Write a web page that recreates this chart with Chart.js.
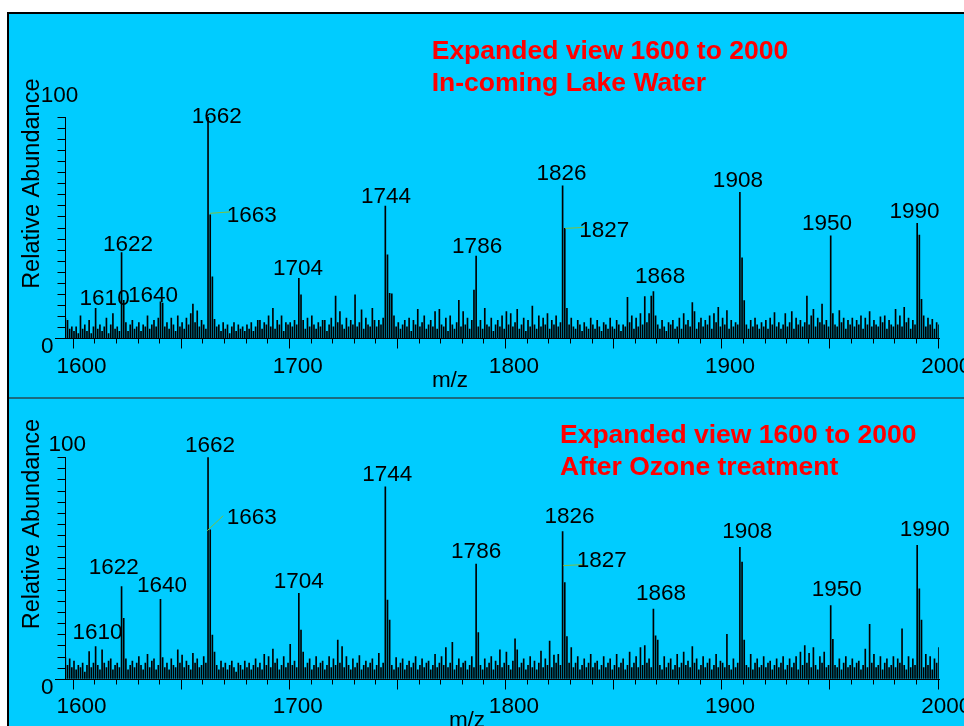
<!DOCTYPE html>
<html><head><meta charset="utf-8">
<script src="https://cdn.jsdelivr.net/npm/chart.js@4.4.0/dist/chart.umd.min.js"></script>
<style>
html,body{margin:0;padding:0;background:#fff;width:964px;height:726px;overflow:hidden;}
#frame{position:absolute;left:7px;top:12px;width:1000px;height:800px;border:2px solid #000;background:#00CCFF;}
#divider{position:absolute;left:9px;top:397px;width:1000px;height:2px;background:#1b6b80;}
canvas{position:absolute;left:0;}
#c1{top:0px;} #c2{top:397px;}
</style></head>
<body>
<div id="frame"></div><div id="divider"></div>
<canvas id="c1" width="964" height="397"></canvas>
<canvas id="c2" width="964" height="329"></canvas>
<script>
// ---------------- DATA ----------------
const mzFirst = 1596;   // first m/z of the abundance arrays (one value per integer m/z)
const mzLast = 2000;
// In-coming lake water, relative abundance at m/z 1596..2000
const abundanceTop = [
  9, 8, 4, 5,                                   // 1596-1599
  3, 5, 2, 10, 4, 6, 3, 8, 2, 5,                // 1600
  13.4, 4, 6, 3, 5, 9, 2, 6, 11, 4,             // 1610
  5, 3, 38.6, 17, 7, 3, 6, 8, 4, 5,             // 1620
  7, 3, 6, 5, 10, 4, 6, 8, 5, 9,                // 1630
  16.4, 15.8, 5, 7, 4, 9, 6, 3, 10, 5,          // 1640
  7, 4, 9, 6, 11, 15.4, 7, 12.3, 5, 8,          // 1650
  6, 4, 100, 55.7, 27.7, 8.5, 5, 6, 3, 7,       // 1660
  4, 6, 2, 5, 7, 3, 6, 4, 5, 3,                 // 1670
  6, 4, 7, 3, 5, 8, 8, 4, 7, 6,                 // 1680
  10, 5, 13.4, 4, 8, 6, 10, 3, 7, 6,            // 1690
  7, 5, 8, 6, 27, 19.5, 8, 4, 9, 5,             // 1700
  10, 6, 4, 7, 5, 8, 8, 3, 6, 9,                // 1710
  5, 19, 7, 12, 6, 4, 9, 5, 8, 6,               // 1720
  19.5, 5, 7, 12.7, 4, 9, 6, 5, 13.4, 8,        // 1730
  5, 8, 6, 9, 59.7, 37.6, 20.2, 20, 10, 5,      // 1740
  7, 4, 6, 8, 5, 9, 3, 8, 6, 13,                // 1750
  5, 7, 10, 4, 6, 8, 5, 12, 4, 13,              // 1760
  6, 5, 9, 3, 10, 6, 4, 7, 17, 5,               // 1770
  12, 6, 9, 4, 8, 21.7, 37.1, 5, 8, 4,          // 1780
  13.4, 6, 5, 9, 3, 6, 8, 5, 10, 4,             // 1790
  12, 6, 11, 5, 7, 13, 4, 6, 9, 3,              // 1800
  8, 5, 14.5, 6, 4, 10, 5, 9, 6, 11,            // 1810
  4, 8, 6, 10, 5, 7, 68.8, 49.6, 13.4, 6,       // 1820
  9, 5, 4, 8, 6, 3, 7, 5, 4, 9,                 // 1830
  6, 4, 8, 5, 3, 7, 6, 4, 9, 5,                 // 1840
  4, 8, 6, 3, 6, 5, 18.4, 7, 10, 4,             // 1850
  9, 5, 11, 6, 18.7, 7, 11, 19, 21, 10,         // 1860
  6, 4, 8, 5, 3, 7, 6, 8, 4, 5,                 // 1870
  9, 4, 11, 6, 8, 5, 16, 12, 4, 7,              // 1880
  9, 5, 8, 6, 10, 4, 11, 7, 13.9, 5,            // 1890
  9, 6, 12.4, 4, 8, 5, 7, 6, 65.9, 36.3,        // 1900
  16.9, 6, 4, 8, 5, 9, 6, 4, 7, 5,              // 1910
  8, 4, 9, 6, 11.5, 5, 7, 4, 6, 11,             // 1920
  5, 7, 12, 4, 9, 6, 8, 5, 7, 19,               // 1930
  6, 10, 13, 5, 9, 7, 15.4, 6, 8, 5,            // 1940
  46.2, 11, 6, 5, 12.4, 7, 9, 4, 8, 6,          // 1950
  9, 5, 8, 6, 10, 4, 9, 6, 12, 5,               // 1960
  8, 6, 5, 9.6, 7, 10, 4, 8, 6, 5,              // 1970
  13, 6, 10, 5, 13.9, 7, 9, 4, 8, 6,            // 1980
  51.9, 46.6, 17.5, 10, 5, 9, 6, 8.5, 4, 7,     // 1990
  6                                             // 2000
];
// After ozone treatment, relative abundance at m/z 1596..2000
const abundanceBottom = [
  9.5, 6, 9, 5,                                 // 1596-1599
  8, 4, 6, 5, 7, 3, 6, 12.2, 5, 7,              // 1600
  14.5, 6, 4, 13, 7, 5, 8, 9, 4, 6,             // 1610
  7, 5, 41.6, 27.3, 9, 4, 6, 8, 5, 7,           // 1620
  10, 6, 4, 7, 11, 5, 8, 9, 4, 6,               // 1630
  35.9, 9.5, 5, 7, 4, 9, 6, 5, 13, 7,           // 1640
  10.7, 5, 8, 6, 4, 11.5, 7, 9, 5, 6,           // 1650
  10, 7, 100, 67.2, 19.7, 12, 6, 4, 8, 5,       // 1660
  7, 4, 6, 8, 5, 3, 7, 6, 4, 8,                 // 1670
  5, 7, 4, 6, 9, 5, 7, 4, 11, 6,                // 1680
  10, 5, 13.4, 7, 9, 4, 6, 10, 5, 7,            // 1690
  15.5, 6, 8, 5, 38.6, 22, 12, 5, 7, 9,         // 1700
  4, 6, 10, 5, 7, 8, 4, 6, 10, 5,               // 1710
  9, 6, 17.5, 7, 14.5, 5, 10, 6, 4, 9,          // 1720
  5, 7, 10.4, 4, 6, 8, 5, 7, 9, 4,              // 1730
  6, 11.5, 5, 7, 86.7, 35.5, 26.5, 6, 4, 9.5,   // 1740
  5, 7, 9, 4, 6, 8, 5, 7, 10, 4,                // 1750
  6, 9, 5, 7, 8, 4, 6, 11, 5, 7,                // 1760
  10, 6, 14, 5, 7, 16.4, 4, 6, 9, 5,            // 1770
  7, 8, 4, 6, 10, 5, 51.8, 20.8, 6, 4,          // 1780
  9, 5, 7, 10, 4, 8, 6, 13, 5, 7,               // 1790
  12, 6, 4, 8, 18, 13, 5, 7, 9, 4,              // 1800
  6, 10, 5, 8, 4, 7, 12.5, 5, 9, 6,             // 1810
  17, 5, 10.7, 7, 11, 6, 66.4, 43.4, 19, 7,     // 1820
  14, 5, 7, 10, 4, 6, 9, 5, 7, 11,              // 1830
  5, 7, 8, 4, 6, 10, 5, 7, 9, 4,                // 1840
  6, 11, 5, 7, 9, 4, 6, 12, 5, 7,               // 1850
  10, 5, 14, 6, 15, 7, 9, 5, 31.5, 19.4,        // 1860
  17.5, 6, 4, 10, 5, 7, 9, 4, 6, 11,            // 1870
  5, 7, 12, 6, 8, 5, 14.5, 7, 9, 4,             // 1880
  6, 10, 5, 7, 9, 4, 6, 11, 5, 8,               // 1890
  7, 5, 20, 6, 4, 9, 5, 7, 59.3, 52.7,          // 1900
  17.5, 6, 5, 11, 4, 7, 9, 5, 6, 10,            // 1910
  5, 7, 8, 4, 6, 9, 5, 7, 10, 4,                // 1920
  6, 9, 5, 7, 10, 4, 12, 6, 15, 7,              // 1930
  11.5, 5, 14, 6, 4, 10, 7, 12, 5, 6,           // 1940
  33, 17.8, 6, 5, 9, 4, 7, 10, 5, 6,            // 1950
  9, 5, 7, 8, 4, 6, 13.4, 5, 24.6, 7,           // 1960
  11, 5, 6, 10, 4, 7, 9, 5, 6, 10,              // 1970
  5, 9, 7, 22.5, 6, 4, 10, 5, 9, 6,             // 1980
  60.2, 40.6, 26.5, 5, 11, 6, 10, 4, 9, 7,      // 1990
  14                                            // 2000
];
const labeledMzTop    = [1610, 1622, 1640, 1662, 1663, 1704, 1744, 1786, 1826, 1827, 1868, 1908, 1950, 1990];
const labeledMzBottom = [1610, 1622, 1640, 1662, 1663, 1704, 1744, 1786, 1826, 1827, 1868, 1908, 1950, 1990];
const xTickLabels = [1600, 1700, 1800, 1900, 2000];
const yTickLabels = [0, 100];
const titleTop    = ["Expanded view 1600 to 2000", "In-coming Lake Water"];
const titleBottom = ["Expanded view 1600 to 2000", "After Ozone treatment"];
const xTitle = "m/z";
const yTitle = "Relative Abundance";

// ---------------- LAYOUT (pixels, not data) ----------------
const FONT = '"Liberation Sans", Arial, Helvetica, sans-serif';
// label placement: centred labels {dx, dy}; leader labels {lx, ly, l1:[x,y], l2:[x,y]} relative to peak apex
const labelLayoutTop = {
  1610:{dx:9,dy:3.4}, 1622:{dx:6.4,dy:2}, 1640:{dx:-7.5,dy:0}, 1662:{dx:8.7,dy:-6},
  1663:{lx:16.5,ly:6.8,l1:[0,-1.6],l2:[20,-3]},
  1704:{dx:-0.8,dy:3.3}, 1744:{dx:0.7,dy:2.7}, 1786:{dx:1,dy:3}, 1826:{dx:-1,dy:6},
  1827:{lx:14.5,ly:8.3,l1:[0.5,0],l2:[20,-1]},
  1868:{dx:6.7,dy:8.3}, 1908:{dx:-2,dy:5.7}, 1950:{dx:-3.7,dy:6}, 1990:{dx:-2.7,dy:5}
};
const labelLayoutBottom = {
  1610:{dx:1.9,dy:7.3}, 1622:{dx:-7.8,dy:12.6}, 1640:{dx:1.5,dy:6.9}, 1662:{dx:2,dy:5.6},
  1663:{lx:16.5,ly:-5.9,l1:[-3,0.8],l2:[13,-14.2]},
  1704:{dx:-0.1,dy:4.9}, 1744:{dx:1.9,dy:6}, 1786:{dx:0,dy:6}, 1826:{dx:7,dy:8.4},
  1827:{lx:12,ly:-16,l1:[-1.5,-17],l2:[18.5,-18]},
  1868:{dx:7.6,dy:9}, 1908:{dx:7.3,dy:9}, 1950:{dx:6,dy:9.6}, 1990:{dx:7.5,dy:9.4}
};

function spectrumPlugin(o) {
  return {
    id: 'spectrumDecor',
    afterDraw(chart) {
      const ctx = chart.ctx, xs = chart.scales.x, ys = chart.scales.y, a = chart.chartArea;
      ctx.save();
      ctx.strokeStyle = '#000';
      ctx.lineWidth = 1;
      const yb = Math.round(a.bottom) + 0.5;
      const xl = Math.round(a.left) + 0.5;
      ctx.beginPath();
      // x axis line
      ctx.moveTo(55, yb); ctx.lineTo(Math.round(a.right) + 1, yb);
      // y axis line
      ctx.moveTo(xl, Math.round(a.top)); ctx.lineTo(xl, yb);
      // y ticks every 5
      for (let v = 0; v <= 100; v += 5) {
        const y = Math.round(ys.getPixelForValue(v)) + 0.5;
        ctx.moveTo(xl - 8, y); ctx.lineTo(xl, y);
      }
      // x ticks every 10, longer every 50
      for (let m = 1600; m <= mzLast; m += 10) {
        const x = Math.round(xs.getPixelForValue(m - 0.6)) + 0.5;
        const len = (m % 50 === 0) ? 10 : 5;
        ctx.moveTo(x, yb); ctx.lineTo(x, yb + len);
      }
      ctx.stroke();

      ctx.fillStyle = '#000';
      ctx.font = '22.5px ' + FONT;
      ctx.textBaseline = 'alphabetic';
      // x tick labels
      ctx.textAlign = 'center';
      xTickLabels.forEach(m => ctx.fillText(String(m), xs.getPixelForValue(m) + 7.5, a.bottom + 34.5));
      // y tick labels
      ctx.textAlign = 'right';
      ctx.fillText(String(yTickLabels[0]), 53.5, a.bottom + 15);
      ctx.fillText(String(yTickLabels[1]), o.y100x, a.top + o.y100dy);
      // x title
      ctx.textAlign = 'center';
      ctx.fillText(xTitle, o.mzX, o.mzY);
      // y title
      ctx.save();
      ctx.font = '23.5px ' + FONT;
      ctx.translate(39.3, o.yTitleY);
      ctx.rotate(-Math.PI / 2);
      ctx.fillText(yTitle, 0, 0);
      ctx.restore();

      // peak labels
      ctx.font = '22.5px ' + FONT;
      o.labels.forEach(m => {
        const v = o.values[m - mzFirst];
        const px = xs.getPixelForValue(m), py = ys.getPixelForValue(v);
        const L = o.layout[m];
        if (L.lx !== undefined) {
          ctx.save();
          ctx.strokeStyle = '#7fbf3f';
          ctx.lineWidth = 1;
          ctx.beginPath();
          ctx.moveTo(px + L.l1[0], py + L.l1[1]);
          ctx.lineTo(px + L.l2[0], py + L.l2[1]);
          ctx.stroke();
          ctx.restore();
          ctx.textAlign = 'left';
          ctx.fillText(String(m), px + L.lx, py + L.ly);
        } else {
          ctx.textAlign = 'center';
          ctx.fillText(String(m), px + L.dx, py - L.dy);
        }
      });

      // red title
      ctx.fillStyle = '#FF0000';
      ctx.font = 'bold 26.5px ' + FONT;
      ctx.textAlign = 'left';
      ctx.fillText(o.title[0], o.titleX, o.titleY1);
      ctx.fillText(o.title[1], o.titleX, o.titleY2);
      ctx.restore();
    }
  };
}

function buildChart(canvasId, values, padding, opts) {
  const pts = values.map((v, i) => ({ x: mzFirst + i, y: v }));
  return new Chart(document.getElementById(canvasId), {
    type: 'bar',
    data: { datasets: [{ data: pts, backgroundColor: '#000', borderWidth: 0, barThickness: 1, grouped: false }] },
    options: {
      responsive: false, animation: false, devicePixelRatio: 1,
      layout: { padding: padding },
      plugins: { legend: { display: false }, tooltip: { enabled: false } },
      scales: {
        x: { type: 'linear', min: mzFirst, max: mzLast, offset: false, display: false },
        y: { type: 'linear', min: 0, max: 100, display: false }
      }
    },
    plugins: [spectrumPlugin(Object.assign({ values: values }, opts))]
  });
}

buildChart('c1', abundanceTop, { left: 65.35, right: 25.2, top: 117, bottom: 59 }, {
  labels: labeledMzTop, layout: labelLayoutTop, title: titleTop,
  titleX: 431.7, titleY1: 59.3, titleY2: 90.7,
  y100x: 78.3, y100dy: -15, mzX: 450, mzY: 386.5, yTitleY: 183.7
});
buildChart('c2', abundanceBottom, { left: 65.35, right: 25.2, top: 60.3, bottom: 47.3 }, {
  labels: labeledMzBottom, layout: labelLayoutBottom, title: titleBottom,
  titleX: 560, titleY1: 443.3 - 397, titleY2: 475 - 397,
  y100x: 86, y100dy: -6.6, mzX: 467, mzY: 727 - 397, yTitleY: 524 - 397
});
</script>
</body></html>
